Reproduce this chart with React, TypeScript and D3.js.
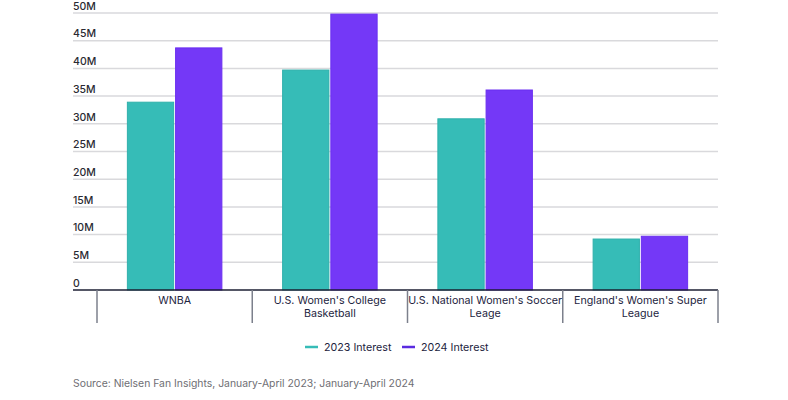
import * as d3 from "d3";

const categories = [
  "WNBA",
  "U.S. Women's College Basketball",
  "U.S. National Women's Soccer Leage",
  "England's Women's Super League",
];
// wrapped tick labels, one entry per category
const categoryLines = [
  ["WNBA"],
  ["U.S. Women's College", "Basketball"],
  ["U.S. National Women's Soccer", "Leage"],
  ["England's Women's Super", "League"],
];
const seriesNames = ["2023 Interest", "2024 Interest"];
const interest2023 = [33.9, 39.7, 30.9, 9.2];
const interest2024 = [43.7, 49.8, 36.1, 9.7];
const yTicks = [0, 5, 10, 15, 20, 25, 30, 35, 40, 45, 50];
const colors = ["#36bcb7", "#7438f7"];
const strokes = ["#2fb0ab", "#6a2ff0"];

const W = 788;
const H = 400;
const font = "Inter, 'Noto Sans', sans-serif";

const App = (): JSX.Element => {
  const gridLeft = 73;
  const plotRight = 718;
  const baseY = 290;
  const topY = 13;

  const x0 = d3.scaleBand<string>().domain(categories).range([97, plotRight]).padding(0);
  const x1 = d3
    .scaleBand<string>()
    .domain(seriesNames)
    .range([0, x0.bandwidth()])
    .paddingInner(0.04)
    .paddingOuter(0.63);
  const y = d3.scaleLinear().domain([0, 50]).range([baseY, topY]);

  const series = [interest2023, interest2024];
  const separators = [...categories.map((c) => x0(c) || 0), plotRight];

  return (
    <svg
      width={W}
      height={H}
      style={{ position: "absolute", left: 0, top: 0, background: "#fff", fontFamily: font }}
    >
      {/* gridlines and tick labels */}
      {yTicks.map((t) => (
        <g key={t}>
          {t > 0 && (
            <line x1={gridLeft} x2={plotRight} y1={y(t)} y2={y(t)} stroke="#d9d9dc" strokeWidth={1.5} />
          )}
          <text x={gridLeft} y={y(t) - 3.3} fontSize={10.5} fontWeight={500} fill="#2a2a32">
            {t === 0 ? "0" : `${t}M`}
          </text>
        </g>
      ))}

      {/* bars */}
      {categories.map((c, i) => (
        <g key={c} transform={`translate(${x0(c) || 0},0)`}>
          {seriesNames.map((s, j) => (
            <rect
              key={s}
              x={x1(s) || 0}
              y={y(series[j][i])}
              width={x1.bandwidth()}
              height={baseY - y(series[j][i])}
              fill={colors[j]}
              stroke={strokes[j]}
              strokeWidth={1}
            />
          ))}
        </g>
      ))}

      {/* x axis */}
      <line x1={gridLeft} x2={plotRight} y1={baseY} y2={baseY} stroke="#1c1f33" strokeWidth={1.5} />
      {separators.map((sx, i) => (
        <line key={i} x1={sx} x2={sx} y1={baseY} y2={323} stroke="#7c808c" strokeWidth={1.5} />
      ))}
      {categories.map((c, i) => (
        <text
          key={c}
          x={(x0(c) || 0) + x0.bandwidth() / 2}
          textAnchor="middle"
          fontSize={10.7}
          fill="#1d2440"
        >
          {categoryLines[i].map((line, k) => (
            <tspan key={k} x={(x0(c) || 0) + x0.bandwidth() / 2} y={304 + k * 13}>
              {line}
            </tspan>
          ))}
        </text>
      ))}

      {/* legend */}
      {seriesNames.map((s, j) => {
        const lx = j === 0 ? 305 : 402;
        return (
          <g key={s}>
            <line x1={lx} x2={lx + 13} y1={347} y2={347} stroke={j === 0 ? colors[0] : "#5a2be0"} strokeWidth={2.5} />
            <text x={lx + 19} y={351} fontSize={10.7} fill="#1d2440">
              {s}
            </text>
          </g>
        );
      })}

      {/* source */}
      <text x={gridLeft} y={387} fontSize={10.4} fill="#6e6e73">
        Source: Nielsen Fan Insights, January-April 2023; January-April 2024
      </text>
    </svg>
  );
};

export default App;
